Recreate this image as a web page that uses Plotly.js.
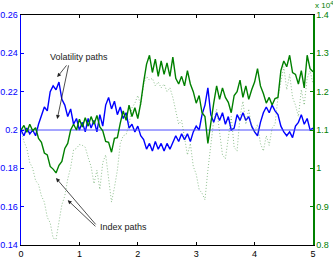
<!DOCTYPE html>
<html>
<head>
<meta charset="utf-8">
<script src="https://cdn.plot.ly/plotly-3.0.1.min.js"></script>
<style>html,body{margin:0;padding:0;background:#fff;}#chart{width:333px;height:261px;}</style>
</head>
<body>
<div id="chart"></div>
<script>
// time grid (years)
const t = [0,0.05,0.10,0.15,0.20,0.25,0.30,0.35,0.40,0.45,0.50,0.55,0.60,0.65,0.70,0.75,0.80,0.85,0.90,0.95,
1.00,1.05,1.10,1.15,1.20,1.25,1.30,1.35,1.40,1.45,1.50,1.55,1.60,1.65,1.70,1.75,1.80,1.85,1.90,1.95,
2.00,2.05,2.10,2.15,2.20,2.25,2.30,2.35,2.40,2.45,2.50,2.55,2.60,2.65,2.70,2.75,2.80,2.85,2.90,2.95,
3.00,3.05,3.10,3.15,3.20,3.25,3.30,3.35,3.40,3.45,3.50,3.55,3.60,3.65,3.70,3.75,3.80,3.85,3.90,3.95,
4.00,4.05,4.10,4.15,4.20,4.25,4.30,4.35,4.40,4.45,4.50,4.55,4.60,4.65,4.70,4.75,4.80,4.85,4.90,4.95,5.00];

// stochastic volatility path (left axis)
const volPath = [0.200,0.197,0.201,0.198,0.200,0.197,0.203,0.207,0.212,0.210,0.220,0.223,0.221,0.225,0.216,0.213,0.207,0.211,0.203,0.206,
0.200,0.204,0.199,0.206,0.201,0.205,0.199,0.208,0.202,0.213,0.217,0.211,0.215,0.208,0.212,0.206,0.209,0.201,0.203,0.199,
0.202,0.197,0.195,0.190,0.193,0.189,0.194,0.190,0.193,0.189,0.193,0.190,0.194,0.197,0.194,0.198,0.195,0.198,0.194,0.199,
0.202,0.200,0.208,0.213,0.222,0.208,0.204,0.209,0.205,0.209,0.203,0.207,0.200,0.201,0.208,0.205,0.209,0.205,0.207,0.202,
0.199,0.197,0.204,0.209,0.212,0.209,0.213,0.210,0.208,0.202,0.199,0.197,0.199,0.196,0.202,0.204,0.208,0.203,0.206,0.200,0.201];

// constant volatility path (left axis)
const tEnds = [0, 5];
const volConst = [0.2, 0.2];

// index path under stochastic volatility (right axis, x 10^4)
const indexStoch = [1.100,1.112,1.094,1.115,1.098,1.106,1.078,1.068,1.040,1.035,1.005,0.998,0.988,1.008,1.018,1.052,1.065,1.100,1.115,1.100,
1.128,1.108,1.132,1.110,1.135,1.115,1.138,1.108,1.098,1.070,1.068,1.042,1.078,1.080,1.118,1.150,1.125,1.165,1.135,1.158,
1.130,1.170,1.225,1.272,1.295,1.250,1.285,1.240,1.280,1.245,1.275,1.240,1.290,1.235,1.220,1.240,1.215,1.255,1.220,1.200,
1.170,1.190,1.145,1.135,1.065,1.125,1.170,1.215,1.180,1.210,1.185,1.172,1.145,1.190,1.200,1.230,1.185,1.215,1.180,1.205,
1.225,1.260,1.215,1.195,1.170,1.185,1.165,1.182,1.185,1.255,1.280,1.265,1.295,1.250,1.245,1.220,1.255,1.210,1.295,1.260,1.252];

// index path under constant volatility (right axis, x 10^4)
const indexConst = [1.100,1.070,1.052,1.015,1.000,0.968,0.958,0.928,0.912,0.872,0.858,0.818,0.815,0.855,0.905,0.928,0.972,1.002,1.048,1.052,
1.062,1.060,1.055,1.028,1.005,0.960,0.995,0.945,1.015,1.035,0.965,0.912,0.950,0.995,1.065,1.085,1.088,1.115,1.158,1.170,
1.190,1.165,1.220,1.240,1.230,1.235,1.215,1.225,1.210,1.220,1.200,1.210,1.185,1.145,1.115,1.125,1.085,1.035,1.065,1.005,
0.985,0.945,0.935,0.918,0.995,1.055,1.125,1.155,1.095,1.035,1.025,1.075,1.135,1.055,1.045,1.135,1.175,1.115,1.155,1.105,
1.095,1.115,1.065,1.045,1.085,1.060,1.105,1.115,1.185,1.225,1.265,1.205,1.245,1.185,1.165,1.135,1.205,1.165,1.235,1.255,1.220];

const xTicks = [0,1,2,3,4,5];
const yLeftTicks = [0.14,0.16,0.18,0.2,0.22,0.24,0.26];
const yRightTicks = [0.8,0.9,1.0,1.1,1.2,1.3,1.4];
const yRightLabels = ['0.8','0.9','1','1.1','1.2','1.3','1.4'];

const BLUE = '#0000ff';
const GREEN = '#008000';
const FONT = 'Liberation Sans, Arial, sans-serif';

const traces = [
  {x: t, y: indexConst, yaxis: 'y2', type: 'scatter', mode: 'lines',
   line: {color: 'rgba(70,150,70,0.6)', width: 1, dash: '1px,2px'}, hoverinfo: 'skip'},
  {x: t, y: indexStoch, yaxis: 'y2', type: 'scatter', mode: 'lines',
   line: {color: GREEN, width: 1.4}, hoverinfo: 'skip'},
  {x: t, y: volPath, type: 'scatter', mode: 'lines',
   line: {color: BLUE, width: 1.4}, hoverinfo: 'skip'},
  {x: tEnds, y: volConst, type: 'scatter', mode: 'lines',
   line: {color: '#4d4dff', width: 1}, hoverinfo: 'skip'}
];

const arrowStyle = {showarrow: true, arrowhead: 2, arrowsize: 1, arrowwidth: 0.8,
  arrowcolor: '#222', text: '', axref: 'x', ayref: 'y', xref: 'x', yref: 'y', standoff: 0};

const layout = {
  width: 333, height: 261,
  margin: {l: 21, r: 20, t: 15, b: 16},
  paper_bgcolor: '#fff', plot_bgcolor: '#fff',
  showlegend: false,
  font: {family: FONT, size: 9, color: '#000'},
  xaxis: {range: [0, 5], tickvals: xTicks, ticktext: xTicks.map(String),
    ticks: 'inside', ticklen: 3, tickcolor: '#000', showline: true, linecolor: '#000',
    linewidth: 1, mirror: 'ticks', showgrid: false, zeroline: false,
    tickfont: {family: FONT, size: 9, color: '#000'}},
  yaxis: {range: [0.14, 0.26], tickvals: yLeftTicks, ticktext: yLeftTicks.map(v => String(v)),
    ticks: 'inside', ticklen: 3, tickcolor: BLUE, showline: true, linecolor: BLUE,
    linewidth: 1.5, showgrid: false, zeroline: false,
    tickfont: {family: FONT, size: 9, color: BLUE}},
  yaxis2: {range: [0.8, 1.4], tickvals: yRightTicks, ticktext: yRightLabels,
    overlaying: 'y', side: 'right', ticks: 'inside', ticklen: 3, tickcolor: GREEN,
    showline: true, linecolor: GREEN, linewidth: 1.5, showgrid: false, zeroline: false,
    tickfont: {family: FONT, size: 9, color: GREEN}},
  annotations: [
    {xref: 'x', yref: 'y', x: 0.99, y: 0.2383, text: 'Volatility paths', showarrow: false,
     font: {family: FONT, size: 9, color: '#222'}},
    Object.assign({}, arrowStyle, {x: 0.62, y: 0.2276, ax: 0.80, ay: 0.2345}),
    Object.assign({}, arrowStyle, {x: 0.62, y: 0.2057, ax: 0.82, ay: 0.2345}),
    {xref: 'x', yref: 'y', x: 1.32, y: 0.1493, xanchor: 'left', text: 'Index paths', showarrow: false,
     font: {family: FONT, size: 9, color: '#222'}},
    Object.assign({}, arrowStyle, {x: 0.60, y: 0.1749, ax: 1.30, ay: 0.1500}),
    Object.assign({}, arrowStyle, {x: 0.80, y: 0.1634, ax: 1.30, ay: 0.1490}),
    {xref: 'paper', yref: 'paper', x: 1, y: 1, xanchor: 'left', yanchor: 'bottom', yshift: 3,
     text: 'x 10<sup>4</sup>', showarrow: false, font: {family: FONT, size: 8, color: GREEN}}
  ]
};

Plotly.newPlot('chart', traces, layout, {staticPlot: true, displayModeBar: false});
</script>
</body>
</html>
